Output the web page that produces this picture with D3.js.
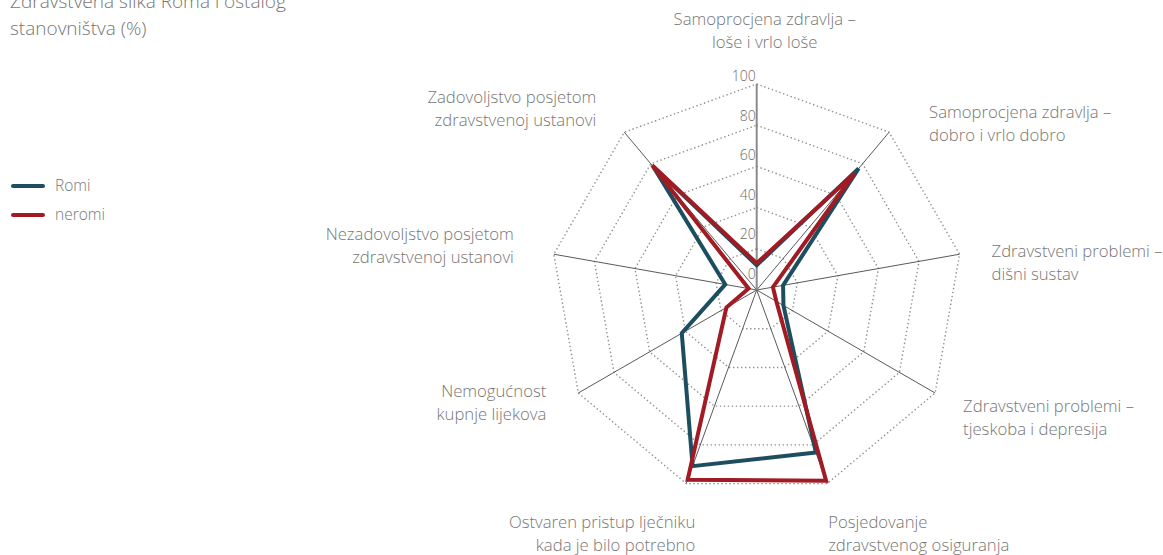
<!DOCTYPE html>
<html>
<head>
<meta charset="utf-8">
<script src="https://cdn.jsdelivr.net/npm/d3@7"></script>
<style>
  body { margin: 0; background: #fff; }
  svg text { font-family: "Open Sans", sans-serif; font-weight: 300; fill: #767676; }
</style>
</head>
<body>
<div id="chart"></div>
<script>
// axis categories (clockwise from the top)
const categories = [
  ["Samoprocjena zdravlja –", "loše i vrlo loše"],
  ["Samoprocjena zdravlja –", "dobro i vrlo dobro"],
  ["Zdravstveni problemi –", "dišni sustav"],
  ["Zdravstveni problemi –", "tjeskoba i depresija"],
  ["Posjedovanje", "zdravstvenog osiguranja"],
  ["Ostvaren pristup lječniku", "kada je bilo potrebno"],
  ["Nemogućnost", "kupnje lijekova"],
  ["Nezadovoljstvo posjetom", "zdravstvenoj ustanovi"],
  ["Zadovoljstvo posjetom", "zdravstvenoj ustanovi"]
];
const romi   = [12, 77, 13, 15, 84, 91, 42, 15.5, 78];
const neromi = [13, 74,  8, 11, 98.5, 98, 17, 4, 79];
const seriesNames = ["Romi", "neromi"];
const tickValues = [0, 20, 40, 60, 80, 100];

const width = 1163, height = 555;
const cx = 756.7, cy = 290, R = 206;
const colors = { Romi: "#1c4e60", neromi: "#a11b24" };

// label nudges relative to the axis end: [dx, dy of first baseline, anchor]
const labelLayout = [
  [8, -59, "middle"], [40, -14, "start"], [32, 3, "start"], [28, 19, "start"],
  [1, 44, "start"], [9, 44, "end"], [-32, 4, "end"], [-40, -14, "end"], [-28, -29, "end"]
];

const svg = d3.select("#chart").append("svg")
  .attr("width", width).attr("height", height);

const n = categories.length;
const angle = d3.scaleLinear().domain([0, n]).range([0, 2 * Math.PI]);
const r = d3.scaleLinear().domain([0, 100]).range([0, R]);
const pt = (i, v) => [cx + r(v) * Math.sin(angle(i)), cy - r(v) * Math.cos(angle(i))];

// title (first line runs off the top edge, as in the source)
svg.append("text").attr("x", 10).attr("y", 8).style("font-size", "19px")
  .text("Zdravstvena slika Roma i ostalog");
svg.append("text").attr("x", 10).attr("y", 35).style("font-size", "19px")
  .text("stanovništva (%)");

// grid rings
const line = d3.line();
tickValues.filter(t => t > 0).forEach(t => {
  const ring = d3.range(n).map(i => pt(i, t));
  svg.append("path")
    .attr("d", line(ring) + "Z")
    .attr("fill", "none")
    .attr("stroke", "#8f8f8f")
    .attr("stroke-width", 1.4)
    .attr("stroke-dasharray", "1.4,2.6");
});

// spokes
d3.range(1, n).forEach(i => {
  const [x, y] = pt(i, 100);
  svg.append("line")
    .attr("x1", cx).attr("y1", cy).attr("x2", x).attr("y2", y)
    .attr("stroke", "#5a5a5a").attr("stroke-width", 1);
});
svg.append("line")
  .attr("x1", cx).attr("y1", cy).attr("x2", cx).attr("y2", cy - R)
  .attr("stroke", "#8a8a8a").attr("stroke-width", 2);

// series
[["Romi", romi], ["neromi", neromi]].forEach(([name, vals]) => {
  svg.append("path")
    .attr("d", line(vals.map((v, i) => pt(i, v))) + "Z")
    .attr("fill", "none")
    .attr("stroke", colors[name])
    .attr("stroke-width", 4)
    .attr("stroke-linejoin", "miter");
});

// tick labels
const tickY = d3.scaleLinear().domain([0, 100]).range([cy - 11, cy - 209]);
tickValues.forEach(t => {
  svg.append("text")
    .attr("x", cx - 1).attr("y", tickY(t))
    .attr("text-anchor", "end")
    .style("font-size", "14px")
    .style("fill", "#6a6a6a")
    .text(t);
});

// axis labels
categories.forEach((lines, i) => {
  const [x, y] = pt(i, 100);
  const [dx, dy, anchor] = labelLayout[i];
  const t = svg.append("text")
    .attr("text-anchor", anchor)
    .style("font-size", "16.7px");
  lines.forEach((s, k) => {
    t.append("tspan").attr("x", x + dx).attr("y", y + dy + k * 23).text(s);
  });
});

// legend
seriesNames.forEach((name, k) => {
  const y = 186 + k * 29;
  svg.append("line")
    .attr("x1", 13).attr("x2", 43).attr("y1", y).attr("y2", y)
    .attr("stroke", colors[name]).attr("stroke-width", 4)
    .attr("stroke-linecap", "round");
  svg.append("text").attr("x", 55).attr("y", y + 5)
    .style("font-size", "15.5px").text(name);
});
</script>
</body>
</html>
